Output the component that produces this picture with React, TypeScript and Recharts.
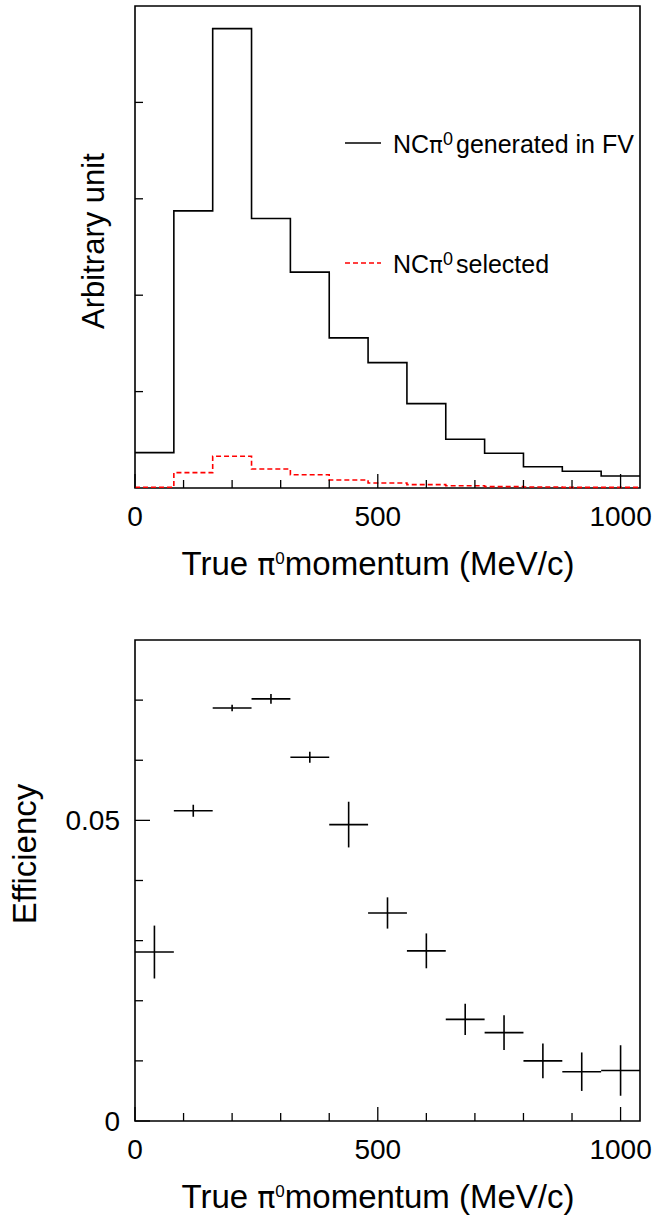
import React from "react";
import {
  ComposedChart,
  ErrorBar,
  Line,
  ReferenceArea,
  Scatter,
  ScatterChart,
  XAxis,
  YAxis,
} from "recharts";

// histogram binning (MeV/c)
const binLowEdges = [0, 80, 160, 240, 320, 400, 480, 560, 640, 720, 800, 880, 960];
const binUpperEdge = 1040;
const binWidth = 80;

// top panel, arbitrary units
const generatedInFV = [0.367, 2.875, 4.765, 2.796, 2.239, 1.557, 1.301, 0.875, 0.505, 0.36, 0.221, 0.173, 0.125];
const selected = [0.008, 0.159, 0.329, 0.197, 0.138, 0.083, 0.052, 0.035, 0.024, 0.014, 0.01, 0.007, 0.007];

// bottom panel
const efficiency = [0.0281, 0.0516, 0.0687, 0.0702, 0.0605, 0.0493, 0.0346, 0.0283, 0.0169, 0.0147, 0.01, 0.0082, 0.0084];
const efficiencyErr = [0.0044, 0.001, 0.00055, 0.0008, 0.0009, 0.0038, 0.0026, 0.0029, 0.0026, 0.0029, 0.0029, 0.0032, 0.0042];

const xTicks = [0, 100, 200, 300, 400, 500, 600, 700, 800, 900, 1000];
const xLabelTicks = [0, 500, 1000];
const yTicksTop = [1, 2, 3, 4];
const yTicksEff = [0, 0.01, 0.02, 0.03, 0.04, 0.05, 0.06, 0.07];
const yLabelTicksEff = [0, 0.05];

const legendLabels = ["generated in FV", "selected"];

const FONT = "'Liberation Sans', Arial, Helvetica, sans-serif";
const PI_FONT = "'DejaVu Sans', sans-serif";

const histRows = [...binLowEdges, binUpperEdge].map((x, i) => {
  const k = Math.min(i, binLowEdges.length - 1);
  return { x, gen: generatedInFV[k], sel: selected[k] };
});

const effRows = binLowEdges.map((lo, i) => ({
  x: lo + binWidth / 2,
  eff: efficiency[i],
  effErr: efficiencyErr[i],
  xErr: binWidth / 2,
}));

function XTick(props: any) {
  const { x, y, payload } = props;
  const major = xLabelTicks.includes(payload.value);
  return (
    <g>
      <line x1={x} x2={x} y1={y} y2={y - (major ? 14 : 8)} stroke="#000" strokeWidth={1.3} />
      {major && (
        <text x={x} y={y + 38} textAnchor="middle" fontSize={28} fontFamily={FONT} fill="#000">
          {payload.value}
        </text>
      )}
    </g>
  );
}

function YTickTop(props: any) {
  const { x, y } = props;
  return <line x1={x} x2={x + 8} y1={y} y2={y} stroke="#000" strokeWidth={1.3} />;
}

function YTickEff(props: any) {
  const { x, y, payload } = props;
  const major = yLabelTicksEff.includes(payload.value);
  return (
    <g>
      <line x1={x} x2={x + (major ? 15 : 8)} y1={y} y2={y} stroke="#000" strokeWidth={1.3} />
      {major && (
        <text x={x - 15} y={y + 10} textAnchor="end" fontSize={28} fontFamily={FONT} fill="#000">
          {payload.value}
        </text>
      )}
    </g>
  );
}

function XTitle(props: any) {
  const { viewBox } = props;
  return (
    <text x={viewBox.x + 243} y={viewBox.y + 87} textAnchor="middle" fontSize={33} fontFamily={FONT} fill="#000">
      True <tspan fontFamily={PI_FONT} fontSize={30}>π</tspan>
      <tspan fontSize={17} dy={-11}>0</tspan>
      <tspan dy={11}>momentum (MeV/c)</tspan>
    </text>
  );
}

function YTitle(text: string, baseX: number, offY: number, size: number) {
  return (props: any) => {
    const { viewBox } = props;
    const cy = viewBox.y + offY;
    return (
      <text
        x={baseX}
        y={cy}
        transform={`rotate(-90 ${baseX} ${cy})`}
        textAnchor="middle"
        fontSize={size}
        fontFamily={FONT}
        fill="#000"
      >
        {text}
      </text>
    );
  };
}

function HistLegend() {
  const styles = [
    { stroke: "#000", dash: undefined as string | undefined },
    { stroke: "#ff0000", dash: "5 3" },
  ];
  return (
    <div style={{ position: "absolute", left: 345, top: 128, fontFamily: FONT, color: "#000" }}>
      {legendLabels.map((label, i) => (
        <div key={label} style={{ display: "flex", alignItems: "center", height: 30, marginTop: i === 0 ? 0 : 90 }}>
          <svg width={36} height={4} style={{ marginRight: 12 }}>
            <line x1={0} x2={36} y1={2} y2={2} stroke={styles[i].stroke} strokeWidth={1.6} strokeDasharray={styles[i].dash} />
          </svg>
          <span style={{ fontSize: 25, lineHeight: "30px", whiteSpace: "nowrap", position: "relative", top: 2 }}>
            NC<span style={{ fontFamily: PI_FONT, fontSize: 23 }}>π</span>
            <span style={{ fontSize: 18, position: "relative", top: -8, marginRight: 3 }}>0</span>
            {label}
          </span>
        </div>
      ))}
    </div>
  );
}

export default function App() {
  return (
    <div style={{ position: "absolute", left: 0, top: 0, width: 658, height: 1220, background: "#fff" }}>
      <div style={{ position: "absolute", left: 0, top: 0 }}>
        <ComposedChart width={658} height={600} data={histRows} margin={{ top: 6, right: 18, bottom: 0, left: 0 }}>
          <XAxis
            dataKey="x"
            type="number"
            domain={[0, binUpperEdge]}
            ticks={xTicks}
            interval={0}
            height={112}
            tickSize={0}
            tickMargin={0}
            axisLine={false}
            tickLine={false}
            tick={<XTick />}
            label={<XTitle />}
          />
          <YAxis
            type="number"
            domain={[0, 5]}
            ticks={yTicksTop}
            interval={0}
            width={135}
            tickSize={0}
            tickMargin={0}
            axisLine={false}
            tickLine={false}
            tick={<YTickTop />}
            label={{ content: YTitle("Arbitrary unit", 104, 235, 31) }}
          />
          <ReferenceArea x1={0} x2={binUpperEdge} y1={0} y2={5} fill="none" stroke="#000" strokeWidth={1.6} />
          <Line
            type="stepAfter"
            dataKey="gen"
            stroke="#000"
            strokeWidth={1.6}
            dot={false}
            activeDot={false}
            isAnimationActive={false}
          />
          <Line
            type="stepAfter"
            dataKey="sel"
            stroke="#ff0000"
            strokeWidth={1.6}
            strokeDasharray="5 3"
            dot={false}
            activeDot={false}
            isAnimationActive={false}
          />
        </ComposedChart>
        <HistLegend />
      </div>

      <div style={{ position: "absolute", left: 0, top: 600 }}>
        <ScatterChart width={658} height={620} margin={{ top: 40, right: 18, bottom: 0, left: 0 }}>
          <XAxis
            dataKey="x"
            type="number"
            domain={[0, binUpperEdge]}
            ticks={xTicks}
            interval={0}
            height={99}
            tickSize={0}
            tickMargin={0}
            axisLine={false}
            tickLine={false}
            tick={<XTick />}
            label={<XTitle />}
          />
          <YAxis
            dataKey="eff"
            type="number"
            domain={[0, 0.08]}
            ticks={yTicksEff}
            interval={0}
            width={135}
            tickSize={0}
            tickMargin={0}
            axisLine={false}
            tickLine={false}
            tick={<YTickEff />}
            label={{ content: YTitle("Efficiency", 36, 214, 33) }}
          />
          <ReferenceArea x1={0} x2={binUpperEdge} y1={0} y2={0.08} fill="none" stroke="#000" strokeWidth={1.6} />
          <Scatter data={effRows} isAnimationActive={false} shape={() => <g />}>
            <ErrorBar dataKey="effErr" direction="y" width={0} stroke="#000" strokeWidth={1.6} isAnimationActive={false} />
            <ErrorBar dataKey="xErr" direction="x" width={0} stroke="#000" strokeWidth={1.6} isAnimationActive={false} />
          </Scatter>
        </ScatterChart>
      </div>
    </div>
  );
}
